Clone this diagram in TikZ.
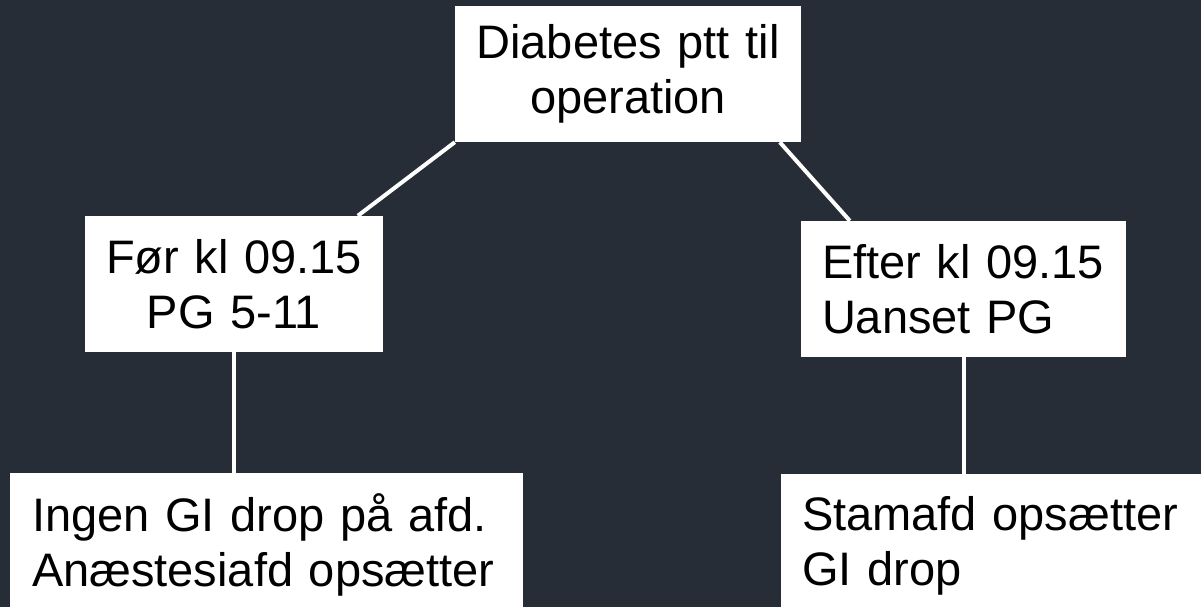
\documentclass[tikz,border=0pt]{standalone}
\usepackage{fontspec}
\setmainfont{Liberation Sans}
\usetikzlibrary{calc}
\definecolor{bgdark}{RGB}{38,45,54}
\tikzset{
  boxnode/.style={draw=none, fill=white, inner ysep=0pt, font=\fontsize{47}{55}\selectfont, text=black},
  link/.style={draw=white, line width=4pt}
}
\begin{document}
\begin{tikzpicture}[x=1pt, y=-1pt]
\useasboundingbox (0,0) rectangle (1201,607);
\clip (0,0) rectangle (1201,607);
\fill[bgdark] (0,0) rectangle (1201,607);
\node[boxnode, minimum width=346pt, minimum height=136pt, inner xsep=20pt, text width=306pt, align=center] (top) at (628,74) {Diabetes ptt til\\operation};
\node[boxnode, minimum width=298pt, minimum height=136pt, inner xsep=20pt, text width=258pt, align=center] (before) at (234,284) {Før kl 09.15\\PG 5-11};
\node[boxnode, minimum width=325pt, minimum height=136pt, inner xsep=21pt, text width=283pt, align=left] (after) at (963.5,289) {Efter kl 09.15\\Uanset PG};
\node[boxnode, minimum width=513pt, minimum height=144pt, inner xsep=22pt, text width=469pt, align=left] (bl) at (266.5,545) {Ingen GI drop på afd.\\Anæstesiafd opsætter};
\node[boxnode, minimum width=440pt, minimum height=144pt, inner xsep=21pt, text width=398pt, align=left] (br) at (1001,546) {Stamafd opsætter\\GI drop};
\draw[link] (top.south west) -- ([xshift=273pt]before.north west);
\draw[link] ([xshift=325pt]top.south west) -- ([xshift=49pt]after.north west);
\draw[link] (before.south) -- (before.south |- bl.north);
\draw[link] (after.south) -- (after.south |- br.north);
\end{tikzpicture}
\end{document}
